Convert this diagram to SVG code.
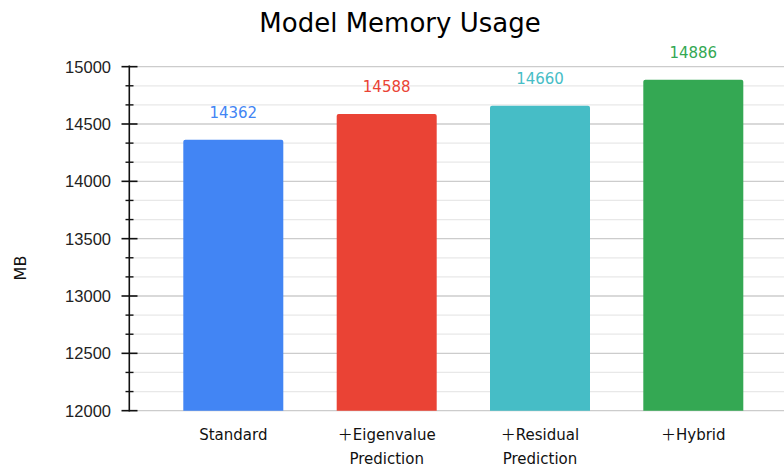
<svg xmlns="http://www.w3.org/2000/svg" width="784" height="469" viewBox="0 0 784 469">
<style>
.grid-major{stroke:#cccccc;stroke-width:1.3}
.grid-minor{stroke:#e8e8e8;stroke-width:1.3}
.axis{stroke:#111;stroke-width:1.6}
.ytick{font-family:"Liberation Sans",Arial,sans-serif;font-size:16.5px;fill:#222;text-anchor:end}
.comic{font-family:"DejaVu Sans","Noto Sans CJK SC",sans-serif}
.xlab{font-size:15px;fill:#111;text-anchor:middle}
.val{font-size:15px;text-anchor:middle}
</style>
<rect width="784" height="469" fill="#ffffff"/>
<g id="grid">
<line class="grid-minor" x1="130" y1="391.56" x2="784" y2="391.56"/>
<line class="grid-minor" x1="130" y1="372.44" x2="784" y2="372.44"/>
<line class="grid-major" x1="130" y1="353.33" x2="784" y2="353.33"/>
<line class="grid-minor" x1="130" y1="334.22" x2="784" y2="334.22"/>
<line class="grid-minor" x1="130" y1="315.11" x2="784" y2="315.11"/>
<line class="grid-major" x1="130" y1="296" x2="784" y2="296"/>
<line class="grid-minor" x1="130" y1="276.89" x2="784" y2="276.89"/>
<line class="grid-minor" x1="130" y1="257.78" x2="784" y2="257.78"/>
<line class="grid-major" x1="130" y1="238.67" x2="784" y2="238.67"/>
<line class="grid-minor" x1="130" y1="219.56" x2="784" y2="219.56"/>
<line class="grid-minor" x1="130" y1="200.44" x2="784" y2="200.44"/>
<line class="grid-major" x1="130" y1="181.33" x2="784" y2="181.33"/>
<line class="grid-minor" x1="130" y1="162.22" x2="784" y2="162.22"/>
<line class="grid-minor" x1="130" y1="143.11" x2="784" y2="143.11"/>
<line class="grid-major" x1="130" y1="124" x2="784" y2="124"/>
<line class="grid-minor" x1="130" y1="104.89" x2="784" y2="104.89"/>
<line class="grid-minor" x1="130" y1="85.78" x2="784" y2="85.78"/>
<line class="grid-major" x1="130" y1="66.67" x2="784" y2="66.67"/>
<line class="grid-major" x1="130" y1="410.67" x2="784" y2="410.67"/>
</g>
<g id="bars">
<g id="bar-standard"><path d="M183.3,410.67 V141.8 Q183.3,139.83 185.3,139.83 H281.3 Q283.3,139.83 283.3,141.8 V410.67 Z" fill="#4285F4"/>
<text class="comic val" x="233.3" y="117.8" fill="#4285F4">14362</text></g>
<g id="bar-eigen"><path d="M336.7,410.67 V115.9 Q336.7,113.91 338.7,113.91 H434.7 Q436.7,113.91 436.7,115.9 V410.67 Z" fill="#EA4335"/>
<text class="comic val" x="386.7" y="91.9" fill="#EA4335">14588</text></g>
<g id="bar-residual"><path d="M490,410.67 V107.7 Q490,105.66 492,105.66 H588 Q590,105.66 590,107.7 V410.67 Z" fill="#46BDC6"/>
<text class="comic val" x="540" y="83.7" fill="#46BDC6">14660</text></g>
<g id="bar-hybrid"><path d="M643.3,410.67 V81.7 Q643.3,79.74 645.3,79.74 H741.3 Q743.3,79.74 743.3,81.7 V410.67 Z" fill="#34A853"/>
<text class="comic val" x="693.3" y="57.7" fill="#34A853">14886</text></g>
</g>
<g id="axis">
<line class="axis" x1="129.3" y1="65.5" x2="129.3" y2="411.5"/>
<line class="axis" x1="121.5" y1="410.67" x2="137.5" y2="410.67"/>
<line class="axis" x1="121.5" y1="353.33" x2="137.5" y2="353.33"/>
<line class="axis" x1="121.5" y1="296" x2="137.5" y2="296"/>
<line class="axis" x1="121.5" y1="238.67" x2="137.5" y2="238.67"/>
<line class="axis" x1="121.5" y1="181.33" x2="137.5" y2="181.33"/>
<line class="axis" x1="121.5" y1="124" x2="137.5" y2="124"/>
<line class="axis" x1="121.5" y1="66.67" x2="137.5" y2="66.67"/>
<g stroke="#111" stroke-width="1.4">
<line x1="125.5" y1="391.56" x2="133.5" y2="391.56"/>
<line x1="125.5" y1="372.44" x2="133.5" y2="372.44"/>
<line x1="125.5" y1="334.22" x2="133.5" y2="334.22"/>
<line x1="125.5" y1="315.11" x2="133.5" y2="315.11"/>
<line x1="125.5" y1="276.89" x2="133.5" y2="276.89"/>
<line x1="125.5" y1="257.78" x2="133.5" y2="257.78"/>
<line x1="125.5" y1="219.56" x2="133.5" y2="219.56"/>
<line x1="125.5" y1="200.44" x2="133.5" y2="200.44"/>
<line x1="125.5" y1="162.22" x2="133.5" y2="162.22"/>
<line x1="125.5" y1="143.11" x2="133.5" y2="143.11"/>
<line x1="125.5" y1="104.89" x2="133.5" y2="104.89"/>
<line x1="125.5" y1="85.78" x2="133.5" y2="85.78"/>
</g>
<text class="ytick" x="111" y="416.7">12000</text>
<text class="ytick" x="111" y="359.3">12500</text>
<text class="ytick" x="111" y="302">13000</text>
<text class="ytick" x="111" y="244.7">13500</text>
<text class="ytick" x="111" y="187.3">14000</text>
<text class="ytick" x="111" y="130">14500</text>
<text class="ytick" x="111" y="72.7">15000</text>
<text class="comic" x="26" y="268" font-size="16" fill="#111" text-anchor="middle" transform="rotate(-90 26 268)">MB</text>
</g>
<g id="xlabels">
<text class="comic xlab" x="233.3" y="440">Standard</text>
<text class="comic xlab" x="386.7" y="440">＋Eigenvalue</text>
<text class="comic xlab" x="386.7" y="464">Prediction</text>
<text class="comic xlab" x="540" y="440">＋Residual</text>
<text class="comic xlab" x="540" y="464">Prediction</text>
<text class="comic xlab" x="693.3" y="440">＋Hybrid</text>
</g>
<text id="title" class="comic" x="400" y="32" font-size="26" fill="#000" text-anchor="middle">Model Memory Usage</text>
</svg>
